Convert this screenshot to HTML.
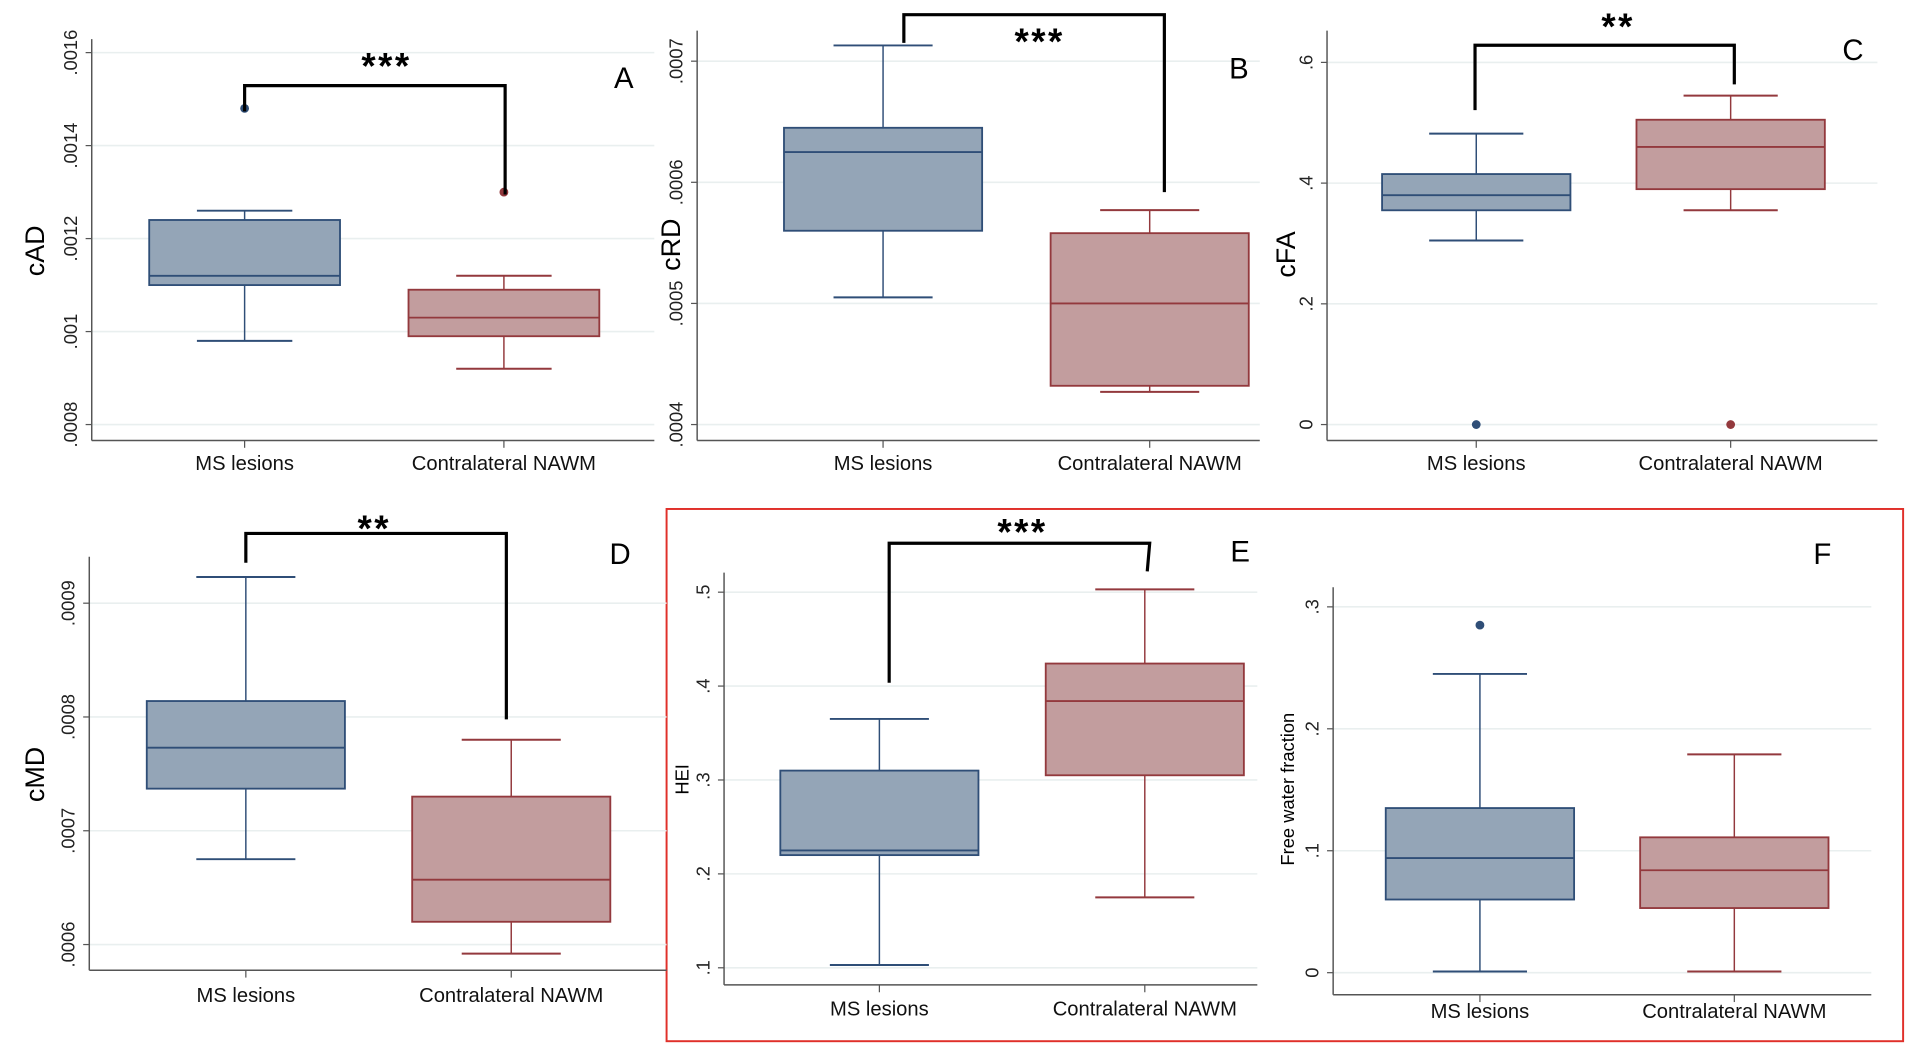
<!DOCTYPE html>
<html><head><meta charset="utf-8"><style>
html,body{margin:0;padding:0;background:#fff;}
svg{display:block;font-family:"Liberation Sans",Arial,sans-serif;}
</style></head><body>
<svg id="fig" width="1908" height="1062" viewBox="0 0 1560 868" preserveAspectRatio="none" xmlns="http://www.w3.org/2000/svg">
<rect x="545" y="416" width="1011" height="435" fill="none" stroke="#e0302a" stroke-width="1.6"/>
</svg>
<script>
const categories = ["MS lesions", "Contralateral NAWM"];
// stats: [lower whisker, Q1, median, Q3, upper whisker]
const statsA = [[0.00098,0.00110,0.00112,0.00124,0.00126],[0.00092,0.00099,0.00103,0.00109,0.00112]];
const outliersA = [[0.00148],[0.00130]];
const ticksA = [0.0008,0.001,0.0012,0.0014,0.0016];
const tickLabelsA = [".0008",".001",".0012",".0014",".0016"];
const statsB = [[0.000505,0.00056,0.000625,0.000645,0.000713],[0.000427,0.000432,0.0005,0.000558,0.000577]];
const outliersB = [[],[]];
const ticksB = [0.0004,0.0005,0.0006,0.0007];
const tickLabelsB = [".0004",".0005",".0006",".0007"];
const statsC = [[0.305,0.355,0.38,0.415,0.482],[0.355,0.39,0.46,0.505,0.545]];
const outliersC = [[0],[0]];
const ticksC = [0,0.2,0.4,0.6];
const tickLabelsC = ["0",".2",".4",".6"];
const statsD = [[0.000675,0.000737,0.000773,0.000814,0.000923],[0.000592,0.00062,0.000657,0.00073,0.00078]];
const outliersD = [[],[]];
const ticksD = [0.0006,0.0007,0.0008,0.0009];
const tickLabelsD = [".0006",".0007",".0008",".0009"];
const statsE = [[0.103,0.22,0.225,0.31,0.365],[0.175,0.305,0.384,0.424,0.503]];
const outliersE = [[],[]];
const ticksE = [0.1,0.2,0.3,0.4,0.5];
const tickLabelsE = [".1",".2",".3",".4",".5"];
const statsF = [[0.001,0.06,0.094,0.135,0.245],[0.001,0.053,0.084,0.111,0.179]];
const outliersF = [[0.285],[]];
const ticksF = [0,0.1,0.2,0.3];
const tickLabelsF = ["0",".1",".2",".3"];

const NS="http://www.w3.org/2000/svg";
const svg=document.getElementById('fig');
function mk(tag,attrs,parent,text){const e=document.createElementNS(NS,tag);for(const k in attrs)e.setAttribute(k,attrs[k]);if(text!==undefined)e.textContent=text;(parent||svg).appendChild(e);return e;}
const FILL=["#94a5b7","#c29d9e"],STROKE=["#2f4e77","#93393d"];

function panel(p){
  const g=mk('g',{});
  
  
  const t0=p.ticks[0],t1=p.ticks[p.ticks.length-1];
  const y=v=>p.y0+(v-t0)/(t1-t0)*(p.y1-p.y0);
  p.ticks.forEach((t,i)=>{
    const gl=mk('line',{x1:p.ax,x2:p.axR,y1:y(t),y2:y(t),stroke:'#e9efef','stroke-width':1.3},g);
    
    
    mk('line',{x1:p.ax-5,x2:p.ax,y1:y(t),y2:y(t),stroke:'#555','stroke-width':1},g);
    const tl=mk('text',{x:0,y:0,transform:`translate(${p.ax-12},${y(t)}) rotate(-90)`,'text-anchor':'middle','font-size':15,fill:'#222'},g,p.tickLabels[i]);
    
    
  });
  const ya=mk('line',{x1:p.ax,x2:p.ax,y1:p.axTop,y2:p.axBot,stroke:'#555','stroke-width':1.2},g);
  
  
  const xa=mk('line',{x1:p.ax,x2:p.axR,y1:p.axBot,y2:p.axBot,stroke:'#555','stroke-width':1.2},g);
  
  
  const yt=mk('text',{x:0,y:0,transform:`translate(${p.titleX},${p.titleY}) rotate(-90)`,'text-anchor':'middle','font-size':p.titleSize,fill:'#000'},g,p.title);
  
  
  categories.forEach((c,i)=>{
    const cx=p.cx[i],s=p.stats[i],hw=p.hw;
    mk('line',{x1:cx,x2:cx,y1:p.axBot,y2:p.axBot+6,stroke:'#555'},g);
    const xl=mk('text',{x:cx,y:p.xlabY,'text-anchor':'middle','font-size':16.5,fill:'#111'},g,c);
    
    
    const bg=mk('g',{},g);
    
    
    mk('line',{x1:cx,x2:cx,y1:y(s[0]),y2:y(s[1]),stroke:STROKE[i],'stroke-width':1.2},bg);
    mk('line',{x1:cx,x2:cx,y1:y(s[3]),y2:y(s[4]),stroke:STROKE[i],'stroke-width':1.2},bg);
    mk('line',{x1:cx-hw/2,x2:cx+hw/2,y1:y(s[0]),y2:y(s[0]),stroke:STROKE[i],'stroke-width':1.6},bg);
    mk('line',{x1:cx-hw/2,x2:cx+hw/2,y1:y(s[4]),y2:y(s[4]),stroke:STROKE[i],'stroke-width':1.6},bg);
    mk('rect',{x:cx-hw,y:y(s[3]),width:hw*2,height:y(s[1])-y(s[3]),fill:FILL[i],stroke:STROKE[i],'stroke-width':1.5},bg);
    mk('line',{x1:cx-hw,x2:cx+hw,y1:y(s[2]),y2:y(s[2]),stroke:STROKE[i],'stroke-width':1.5},bg);
    p.outliers[i].forEach(o=>{
      const d=mk('circle',{cx:cx,cy:y(o),r:3.6,fill:STROKE[i]},g);
      
      
    });
  });
  if(p.br){
    const b=p.br;
    const pl=mk('polyline',{points:`${b.x1},${b.d1} ${b.x1},${b.y} ${b.x2},${b.y} ${b.x2b||b.x2},${b.d2}`,fill:'none',stroke:'#000','stroke-width':2.6},g);
    
    
    const st=mk('text',{x:b.sx,y:b.sy+4,'text-anchor':'middle','font-size':30,'font-weight':'bold','letter-spacing':2,fill:'#000'},g,b.stars);
    
    
  }
  const L=mk('text',{x:p.lx,y:p.ly,'text-anchor':'middle','font-size':24,fill:'#000'},g,p.letter);
  
  
}

panel({letter:'A',stats:statsA,outliers:outliersA,ticks:ticksA,tickLabels:tickLabelsA,y0:347,y1:43,ax:75,axR:535,axTop:32,axBot:360,cx:[200,412],hw:78,title:'cAD',titleX:36,titleY:205,titleSize:22,xlabY:384,lx:510,ly:72,
  br:{x1:200,x2:413,y:70,d1:91,d2:159,stars:'***',sx:316,sy:60}});
panel({letter:'B',stats:statsB,outliers:outliersB,ticks:ticksB,tickLabels:tickLabelsB,y0:347,y1:50,ax:570,axR:1030,axTop:25,axBot:360,cx:[722,940],hw:81,title:'cRD',titleX:556,titleY:200,titleSize:22,xlabY:384,lx:1013,ly:64,
  br:{x1:739,x2:952,y:12,d1:35,d2:157,stars:'***',sx:850,sy:40}});
panel({letter:'C',stats:statsC,outliers:outliersC,ticks:ticksC,tickLabels:tickLabelsC,y0:347,y1:51,ax:1085,axR:1535,axTop:25,axBot:360,cx:[1207,1415],hw:77,title:'cFA',titleX:1059,titleY:208,titleSize:22,xlabY:384,lx:1515,ly:49,
  br:{x1:1206,x2:1418,y:37,d1:90,d2:69,stars:'**',sx:1323,sy:28}});
panel({letter:'D',stats:statsD,outliers:outliersD,ticks:ticksD,tickLabels:tickLabelsD,y0:772,y1:493,ax:73,axR:545,axTop:455,axBot:793,cx:[201,418],hw:81,title:'cMD',titleX:36,titleY:633,titleSize:22,xlabY:819,lx:507,ly:461,
  br:{x1:201,x2:414,y:436,d1:460,d2:588,stars:'**',sx:306,sy:438}});
panel({letter:'E',stats:statsE,outliers:outliersE,ticks:ticksE,tickLabels:tickLabelsE,y0:791,y1:484,ax:592,axR:1028,axTop:468,axBot:805,cx:[719,936],hw:81,title:'HEI',titleX:563,titleY:637,titleSize:15,xlabY:830,lx:1014,ly:459,
  br:{x1:727,x2:940,x2b:938,y:444,d1:558,d2:467,stars:'***',sx:836,sy:441}});
panel({letter:'F',stats:statsF,outliers:outliersF,ticks:ticksF,tickLabels:tickLabelsF,y0:795,y1:496,ax:1090,axR:1530,axTop:480,axBot:813,cx:[1210,1418],hw:77,title:'Free water fraction',titleX:1058,titleY:645,titleSize:15,xlabY:832,lx:1490,ly:461});
</script>
</body></html>
